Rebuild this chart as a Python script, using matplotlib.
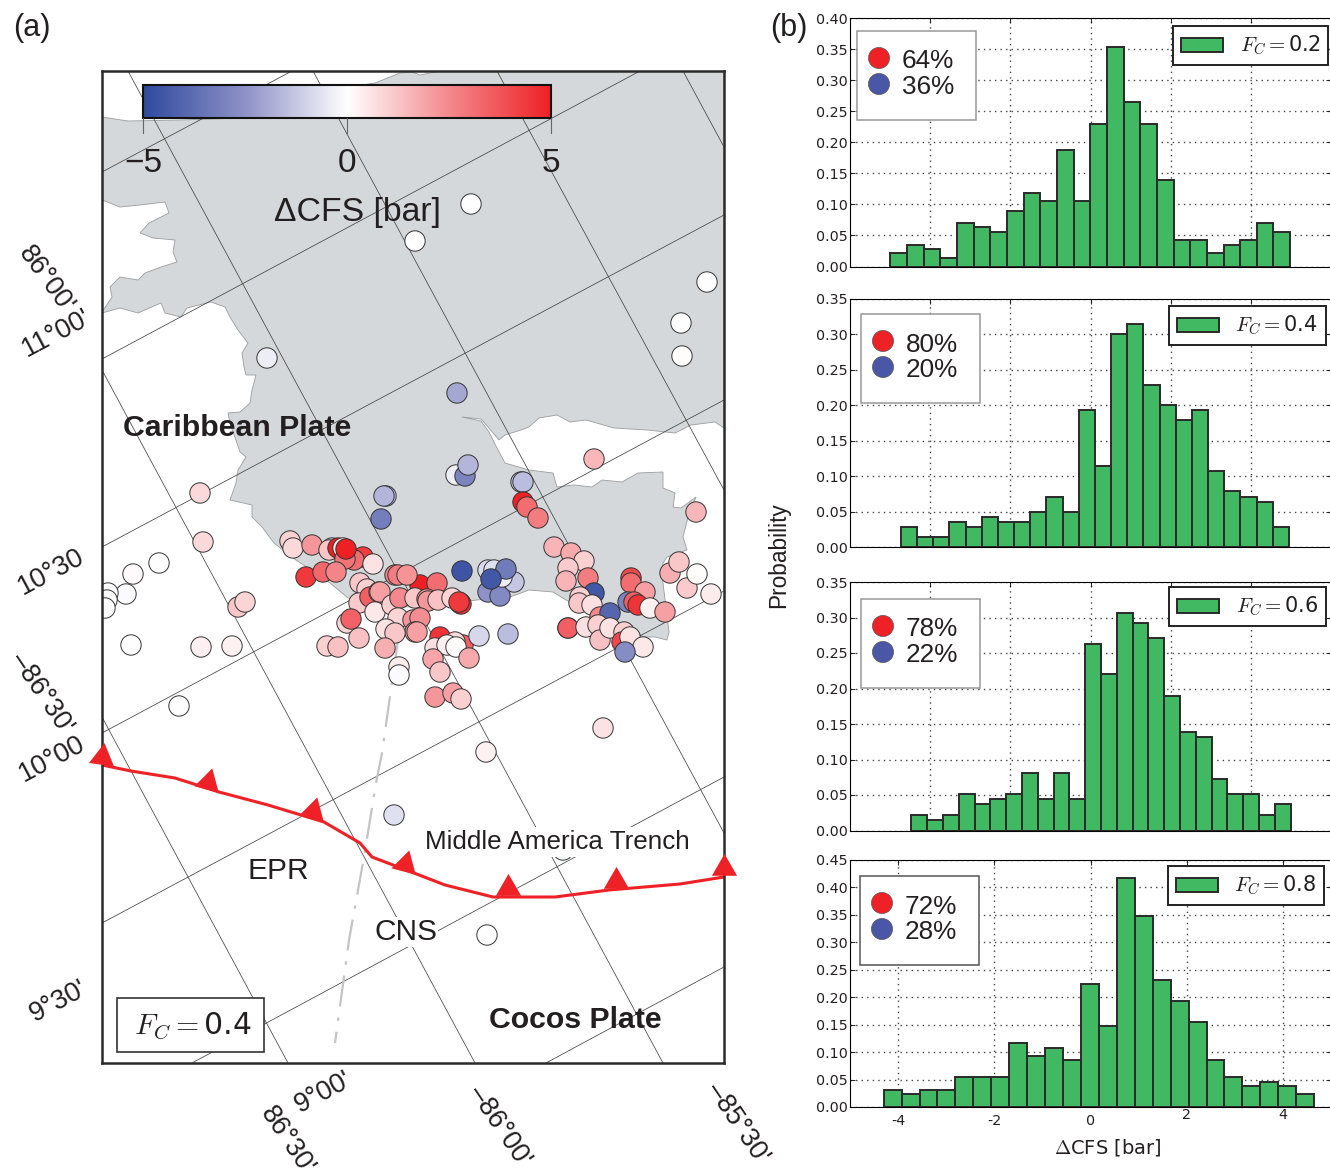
import numpy as np
import matplotlib
matplotlib.use('Agg')
import matplotlib.pyplot as plt
from matplotlib.colors import LinearSegmentedColormap
from matplotlib.patches import Polygon, Rectangle

W, H = 1330, 1170
DARK = '#231f20'
GREEN = '#41b862'
RED = '#ee2226'
BLUE = '#4a56a6'

# histogram data, one list per friction value
fc_values = ['0.2', '0.4', '0.6', '0.8']
bin_ranges = [(-4.99, 4.98), (-4.73, 4.95), (-4.47, 4.99), (-4.30, 4.65)]
prob_02 = [0.021, 0.035, 0.028, 0.014, 0.070, 0.063, 0.056, 0.090, 0.118, 0.105, 0.188, 0.105,
           0.230, 0.354, 0.264, 0.230, 0.140, 0.042, 0.042, 0.021, 0.035, 0.042, 0.070, 0.056]
prob_04 = [0.029, 0.014, 0.014, 0.036, 0.029, 0.043, 0.036, 0.036, 0.050, 0.071, 0.050, 0.193,
           0.115, 0.300, 0.315, 0.229, 0.200, 0.179, 0.193, 0.107, 0.079, 0.071, 0.064, 0.029]
prob_06 = [0.022, 0.015, 0.022, 0.051, 0.037, 0.044, 0.051, 0.081, 0.044, 0.081, 0.044, 0.263,
           0.220, 0.307, 0.292, 0.271, 0.190, 0.139, 0.132, 0.073, 0.051, 0.051, 0.022, 0.037]
prob_08 = [0.031, 0.023, 0.031, 0.031, 0.054, 0.054, 0.054, 0.116, 0.093, 0.108, 0.085, 0.224,
           0.147, 0.418, 0.348, 0.232, 0.193, 0.154, 0.085, 0.054, 0.038, 0.046, 0.038, 0.023]
probs = [prob_02, prob_04, prob_06, prob_08]
pct_positive = [64, 80, 78, 72]
pct_negative = [36, 20, 22, 28]
y_tops = [0.40, 0.35, 0.35, 0.45]

# earthquakes: map position (picture pixels) and stress change in bar
quake_x = [471, 415, 707, 681, 682, 267, 457, 594, 200, 203, 238, 245, 159, 133, 126, 108, 107, 105,
           131, 201, 232, 179, 456, 465, 468, 386, 384, 381, 521, 523, 523, 527, 538,
           290, 293, 312, 332, 329, 338, 343, 363, 354, 345, 346, 373, 306, 323, 336,
           360, 367, 359, 420, 437, 395, 398, 407, 370, 379, 380, 347, 351, 375, 392, 400, 398, 386,
           415, 427, 428, 438, 452, 460, 461, 459, 413, 420, 415, 417, 395,
           327, 338, 359, 385, 399, 399, 440, 463, 455, 435, 447, 456, 469, 433, 440, 435, 453, 461,
           479, 508, 462, 488, 500, 514, 488, 494, 502, 506, 491,
           554, 571, 584, 568, 566, 588, 594, 580, 579, 592, 568, 568, 586, 600, 610, 598, 600, 610,
           624, 622, 630, 643, 625, 631, 631, 645, 628, 634, 638, 650, 665, 670, 679, 687, 697, 711,
           696, 603, 486, 394, 487, 563]
quake_y = [204, 241, 282, 323, 356, 358, 393, 459, 493, 542, 607, 602, 563, 574, 594, 593, 600, 608,
           645, 647, 646, 706, 475, 476, 465, 496, 496, 519, 482, 482, 502, 507, 518,
           541, 548, 545, 548, 550, 548, 548, 557, 560, 559, 549, 564, 577, 572, 572,
           583, 589, 603, 585, 583, 575, 575, 575, 597, 592, 592, 623, 619, 612, 605, 598, 618, 629,
           598, 599, 601, 600, 598, 603, 604, 602, 620, 618, 632, 632, 633,
           646, 647, 638, 648, 667, 675, 637, 645, 642, 648, 645, 647, 658, 659, 672, 697, 693, 699,
           636, 634, 571, 592, 596, 582, 570, 570, 577, 569, 579,
           547, 553, 561, 568, 581, 578, 593, 597, 603, 605, 628, 628, 627, 617, 613, 625, 640, 628,
           632, 642, 637, 647, 652, 578, 583, 592, 602, 602, 605, 608, 612, 573, 562, 588, 574, 594,
           512, 728, 752, 815, 935, 850]
quake_cfs = [0.0, 0.0, 0.0, 0.0, 0.05, -0.4, -2.0, 1.5, 0.8, 0.8, 1.2, 0.9, 0.02, 0.1, -0.1, 0.0, 0.05, 0.0,
             0.02, 0.35, 0.3, 0.0, -0.4, -3.0, -1.7, -1.2, -1.7, -3.2, -1.2, -1.5, 5.0, 3.2, 2.8,
             1.0, 0.8, 2.2, -1.2, 1.2, 5.0, 0.4, 4.3, 3.2, 3.0, 5.0, 0.6, 4.4, 3.3, 2.6,
             1.2, 1.0, 1.1, 5.0, 3.2, 2.6, 2.8, 2.3, 3.5, 2.0, 2.0, 0.9, 3.4, 0.5, 1.0, 2.5, 0.9, 0.6,
             1.2, 2.3, 2.2, 1.3, 0.9, 4.6, 4.6, 4.4, 2.2, 2.4, 2.0, 2.0, 1.2,
             1.0, 1.3, 1.3, 1.7, 0.4, -0.1, 4.5, 3.5, 0.8, 0.7, 0.35, 0.05, 1.8, 1.9, 1.2, 2.2, 2.0, 1.0,
             -0.9, -1.5, -4.6, -2.5, -2.8, -1.3, -0.8, -0.7, -0.4, -3.3, -4.5,
             1.6, 1.8, 1.0, 1.1, 1.6, 2.8, -4.5, 1.0, 1.2, 0.7, 3.5, 3.5, 0.7, 2.5, -4.0, 1.0, 1.3, 0.6,
             1.0, 4.0, 0.6, 0.5, -2.7, 4.0, 3.2, 2.0, -3.0, 3.5, 4.5, 0.35, 2.0, 1.7, 1.2, 1.1, 0.05, 0.4,
             1.5, 0.6, 0.3, -0.7, 0.0, -0.2]

# land outline in map pixels
land_x = [440, 724, 724, 715, 691, 675, 647, 614, 586, 570, 557, 539, 529, 521, 505, 499, 489, 481, 462, 481,
          489, 497, 505, 529, 553, 557, 574, 592, 602, 622, 638, 663, 663, 675, 673, 681, 696, 690, 683, 687,
          667, 663, 662, 669, 667, 655, 643, 630, 610, 590, 566, 553, 529, 510, 477, 450, 413, 380, 348, 330,
          293, 274, 262, 252, 252, 230, 236, 238, 246, 240, 230, 228, 240, 250, 252, 256, 246, 244, 242, 248,
          238, 230, 225, 211, 187, 181, 165, 161, 138, 120, 102, 102, 112, 110, 120, 138, 145, 161, 177, 173,
          175, 153, 140, 149, 169, 165, 140, 120, 102, 102, 128, 181, 242, 270, 323, 343, 375, 400, 412, 420]
land_y = [71, 71, 428, 422, 425, 433, 430, 428, 420, 422, 415, 418, 427, 430, 435, 440, 428, 419, 417, 421,
          432, 448, 463, 470, 473, 487, 485, 487, 480, 482, 473, 472, 488, 493, 507, 508, 497, 510, 537, 550,
          557, 563, 575, 632, 640, 637, 637, 625, 625, 612, 600, 592, 590, 597, 600, 603, 607, 606, 598, 583,
          558, 543, 527, 517, 505, 500, 483, 470, 457, 452, 423, 413, 412, 403, 390, 375, 375, 367, 353, 343,
          330, 317, 307, 302, 308, 317, 313, 303, 313, 308, 313, 312, 297, 287, 277, 280, 273, 267, 262, 252,
          240, 238, 233, 223, 213, 202, 205, 207, 200, 117, 121, 120, 118, 110, 103, 88, 83, 73, 72, 75]

# graticule segments (x0, y0, x1, y1)
lon_lines = [(128, 71, 663, 1063), (102, 370, 475, 1063), (102, 717, 288, 1063),
             (313, 71, 724, 833), (497, 71, 724, 490), (683, 71, 724, 147)]
lat_lines = [(102, 172, 292, 71), (102, 359, 640, 71), (102, 547, 724, 215), (102, 733, 724, 400),
             (102, 923, 724, 591), (192, 1063, 724, 777), (546, 1063, 724, 967)]

trench_x = [102, 131, 175, 219, 268, 324, 360, 372, 414, 445, 493, 555, 609, 680, 724]
trench_y = [765, 771, 778, 792, 805, 822, 843, 857, 873, 885, 897, 897, 890, 884, 877]
teeth_x = [102, 208, 313, 405, 508, 616, 724]
teeth_y = [757, 782, 811, 864, 888, 881, 868]
teeth_tilt = [-8, -15, -15, -15, 0, 0, 0]

ridge_x = [398, 382, 376, 364, 349, 335]
ridge_y = [640, 753, 783, 857, 940, 1043]

# rotated graticule labels
grat_text = ["86°00'", "11°00'", "10°30", "–86°30'", "10°00", "9°30'", "9°00'", "86°30'", "–86°00'", "–85°30'"]
grat_x = [46, 56, 51, 41, 52, 59, 323, 287, 499, 737]
grat_y = [280, 333, 572, 693, 759, 1001, 1093, 1141, 1126, 1123]
grat_rot = [-54, 28, 28, -56, 28, 28, 28, -56, -56, -56]

plt.rcParams['mathtext.fontset'] = 'cm'
plt.rcParams['text.color'] = DARK

cfs_cmap = LinearSegmentedColormap.from_list(
    'cfs', [(0, '#2f4a9e'), (0.25, '#8f92c8'), (0.5, '#ffffff'), (0.75, '#f4898d'), (1, '#ee2024')])


def px_axes(left, top, right, bottom, **kw):
    return fig.add_axes([left / W, 1 - bottom / H, (right - left) / W, (bottom - top) / H], **kw)


fig = plt.figure(figsize=(W / 100, H / 100), dpi=100)

# map panel
ax = px_axes(102, 71, 724, 1063)
ax.add_patch(Polygon(np.column_stack([land_x, land_y]), closed=True, facecolor='#d5d8da',
                     edgecolor='#9a9d9f', linewidth=0.6, zorder=1))
for x0, y0, x1, y1 in lon_lines + lat_lines:
    ax.plot([x0, x1], [y0, y1], color='#444444', lw=0.55, zorder=1.5)
ax.plot(ridge_x, ridge_y, color='#c4c4c4', lw=1.6, dashes=(14, 5, 1.5, 5), zorder=1.6)
ax.scatter(quake_x, quake_y, c=quake_cfs, cmap=cfs_cmap, vmin=-5, vmax=5, s=215,
           edgecolors='#333333', linewidths=0.7, zorder=3)
ax.plot(trench_x, trench_y, color=RED, lw=2.2, zorder=4)
for tx, ty, tilt in zip(teeth_x, teeth_y, teeth_tilt):
    ax.plot([tx], [ty], marker=(3, 0, tilt), ms=21, color=RED, mew=0, clip_on=False, zorder=5)

# colour bar drawn inside the map
ax.imshow(np.linspace(-5, 5, 256).reshape(1, -1), cmap=cfs_cmap, vmin=-5, vmax=5, aspect='auto',
          extent=(143, 551, 118, 85), zorder=2.5)
ax.add_patch(Rectangle((143, 85), 408, 33, fill=False, edgecolor='#111111', lw=1.5, zorder=2.6))
for bx, lab in zip([143, 347, 551], ['−5', '0', '5']):
    ax.plot([bx, bx], [118, 133], color='#666666', lw=0.8, zorder=2.6)
    ax.text(bx, 163, lab, fontsize=24, family='Liberation Sans', ha='center', va='center', zorder=6)
ax.text(357, 212, 'ΔCFS [bar]', fontsize=24.3, family='Liberation Sans', ha='center', va='center', zorder=6)

ax.text(123, 428, 'Caribbean Plate', fontsize=21.8, family='Liberation Sans', weight='bold', va='center', zorder=6)
ax.text(489, 1020, 'Cocos Plate', fontsize=21.8, family='Liberation Sans', weight='bold', va='center', zorder=6)
ax.text(425, 842, 'Middle America Trench', fontsize=18.7, family='Liberation Sans', va='center', zorder=6,
        bbox=dict(facecolor='white', edgecolor='none', pad=2))
ax.text(247, 871, 'EPR', fontsize=21.5, family='Liberation Sans', va='center', zorder=6)
ax.text(374, 932, 'CNS', fontsize=21.5, family='Liberation Sans', va='center', zorder=6,
        bbox=dict(facecolor='white', edgecolor='none', pad=0.5))

ax.add_patch(Rectangle((117, 998), 147, 54, facecolor='white', edgecolor='#333333', lw=1.2, zorder=6))
ax.text(193, 1026, r'$F_C = $0.4', fontsize=21.5, ha='center', va='center', zorder=7)

ax.set_xlim(102, 724)
ax.set_ylim(1063, 71)
ax.set_xticks([])
ax.set_yticks([])
for sp in ax.spines.values():
    sp.set_linewidth(1.8)
    sp.set_color('#2b2b2b')
    sp.set_zorder(4.5)

# histogram panels
hist_tops = [18, 299, 582, 860]
hist_bottoms = [266.5, 547.3, 830.5, 1107]
hist_xlims = [(-6, 6), (-6, 6), (-6, 6), (-5, 5)]
legend_right = [1328, 1326, 1326, 1324]
legend_top = [26, 306, 587, 866]
xlabel_pads = [5, 5, 5, 1, 1]

for i in range(4):
    a = px_axes(850, hist_tops[i], 1331, hist_bottoms[i])
    edges = np.linspace(bin_ranges[i][0], bin_ranges[i][1], len(probs[i]) + 1)
    a.bar(edges[:-1], probs[i], width=np.diff(edges), align='edge', color=GREEN,
          edgecolor='#2a2a2a', linewidth=1.4, zorder=2, label=r'$F_C = $' + fc_values[i])
    a.set_xlim(hist_xlims[i])
    a.set_ylim(0, y_tops[i])
    a.set_xticks([-4, -2, 0, 2, 4])
    a.set_yticks(np.arange(0, y_tops[i] + 0.001, 0.05))
    a.yaxis.set_major_formatter(matplotlib.ticker.FormatStrFormatter('%.2f'))
    a.tick_params(direction='in', top=True, right=True, length=3.5, width=0.7, labelsize=10.3, colors=DARK)
    a.tick_params(axis='y', pad=1.5)
    a.grid(True, linestyle=(0, (1, 3)), color='#444444', linewidth=1, zorder=0)
    a.set_axisbelow(True)
    if i < 3:
        a.tick_params(labelbottom=False)
    else:
        a.set_xticklabels(['-4', '-2', '0', '2', '4'])
        for tick, pad in zip(a.xaxis.get_major_ticks(), xlabel_pads):
            tick.set_pad(pad)
    leg = a.legend(loc='upper right', bbox_to_anchor=(legend_right[i] / W, 1 - legend_top[i] / H),
                   bbox_transform=fig.transFigure, borderaxespad=0, fontsize=15, fancybox=False, framealpha=1,
                   edgecolor='#222222', handlelength=2.02, handleheight=0.67, handletextpad=0.8, borderpad=0.38)
    leg.get_frame().set_linewidth(1.4)

# overlay in picture pixels for the percentage boxes and the outer labels
ov = fig.add_axes([0, 0, 1, 1], zorder=10)
ov.set_xlim(0, W)
ov.set_ylim(H, 0)
ov.axis('off')
box_left = [857, 861, 861, 860]
box_top = [31, 314, 599, 876]
box_edge = ['#999999', '#999999', '#999999', '#555555']
for i in range(4):
    ov.add_patch(Rectangle((box_left[i], box_top[i]), 118.5, 89, facecolor='white', edgecolor=box_edge[i], lw=1.1))
    cx = box_left[i] + 22
    ov.scatter([cx, cx], [box_top[i] + 27, box_top[i] + 53], s=230, c=[RED, BLUE],
               edgecolors='#555555', linewidths=0.5)
    ov.text(cx + 23, box_top[i] + 30.5, '%d%%' % pct_positive[i], fontsize=18.8, family='Liberation Sans', va='center')
    ov.text(cx + 23, box_top[i] + 56, '%d%%' % pct_negative[i], fontsize=18.8, family='Liberation Sans', va='center')

for s, gx, gy, rot in zip(grat_text, grat_x, grat_y, grat_rot):
    ov.text(gx, gy, s, fontsize=19.5, family='Liberation Sans', rotation=rot, rotation_mode='anchor',
            ha='center', va='center', clip_on=True)

ov.text(13, 28, '(a)', fontsize=22, family='Liberation Sans', va='center')
ov.text(770, 28, '(b)', fontsize=22, family='Liberation Sans', va='center')
ov.text(779, 555, 'Probability', fontsize=16.3, family='Liberation Sans', rotation=90, ha='center', va='center')
ov.text(1108, 1147, r'$\Delta$CFS [bar]', fontsize=14, ha='center', va='center')

fig.savefig('out.png', dpi=100)
